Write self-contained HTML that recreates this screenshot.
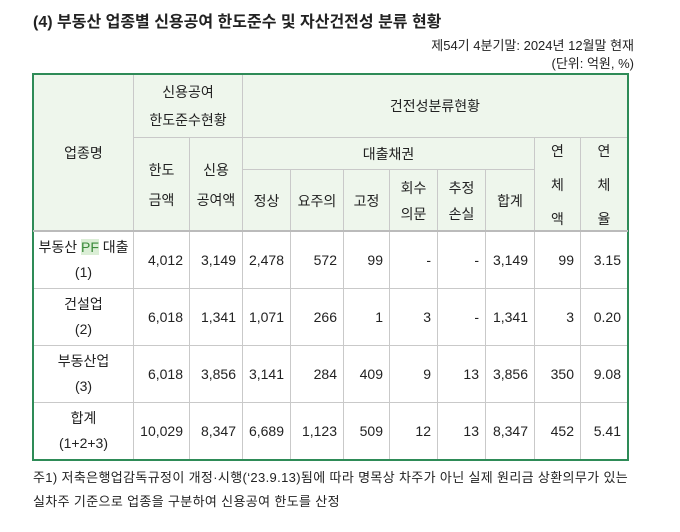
<!DOCTYPE html>
<html><head><meta charset="utf-8"><style>
*{margin:0;padding:0;box-sizing:border-box}
body{width:680px;height:532px;background:#fff;font-family:"Liberation Sans","Noto Sans CJK KR",sans-serif;color:#222;position:relative;overflow:hidden}
.t{position:absolute;white-space:nowrap}
.c{position:absolute;border:1px solid #c9c9c9;display:flex;align-items:center;justify-content:center;text-align:center;font-size:14px;line-height:30px}
.h{background:#eef6ec}
.n{justify-content:flex-end;padding-right:6px}
.lh{line-height:34px}
</style></head><body>
<div class="t" style="left:33px;top:8px;font-size:16px;font-weight:bold">(4) 부동산 업종별 신용공여 한도준수 및 자산건전성 분류 현황</div>
<div class="t" style="right:46px;top:35px;font-size:13px">제54기 4분기말: 2024년 12월말 현재</div>
<div class="t" style="right:46px;top:53px;font-size:13px">(단위: 억원, %)</div>

<div class="c h" style="left:33px;top:74px;width:101px;height:158px">업종명</div>
<div class="c h" style="left:133px;top:74px;width:110px;height:64px;line-height:28px"><div>신용공여<br>한도준수현황</div></div>
<div class="c h" style="left:242px;top:74px;width:386px;height:64px">건전성분류현황</div>
<div class="c h" style="left:133px;top:137px;width:57px;height:95px"><div>한도<br>금액</div></div>
<div class="c h" style="left:189px;top:137px;width:54px;height:95px"><div>신용<br>공여액</div></div>
<div class="c h" style="left:242px;top:137px;width:293px;height:33px">대출채권</div>
<div class="c h lh" style="left:534px;top:137px;width:47px;height:95px"><div>연<br>체<br>액</div></div>
<div class="c h lh" style="left:580px;top:137px;width:48px;height:95px"><div>연<br>체<br>율</div></div>
<div class="c h" style="left:242px;top:169px;width:49px;height:63px">정상</div>
<div class="c h" style="left:290px;top:169px;width:54px;height:63px">요주의</div>
<div class="c h" style="left:343px;top:169px;width:47px;height:63px">고정</div>
<div class="c h" style="left:389px;top:169px;width:49px;height:63px;line-height:26px"><div>회수<br>의문</div></div>
<div class="c h" style="left:437px;top:169px;width:49px;height:63px;line-height:26px"><div>추정<br>손실</div></div>
<div class="c h" style="left:485px;top:169px;width:50px;height:63px">합계</div>

<div id="rows"></div>
<script>
var R=[["부동산 <span style='background:#dbeed6;color:#3a8a3a'>PF</span> 대출<br>(1)","4,012","3,149","2,478","572","99","-","-","3,149","99","3.15"],
["건설업<br>(2)","6,018","1,341","1,071","266","1","3","-","1,341","3","0.20"],
["부동산업<br>(3)","6,018","3,856","3,141","284","409","9","13","3,856","350","9.08"],
["합계<br>(1+2+3)","10,029","8,347","6,689","1,123","509","12","13","8,347","452","5.41"]];
var X=[33,133,189,242,290,343,389,437,485,534,580,627];
var h="";
for(var r=0;r<4;r++){var y=231+r*57;
for(var i=0;i<11;i++){h+='<div class="c'+(i?' n':'')+'" style="left:'+X[i]+'px;top:'+y+'px;width:'+(X[i+1]-X[i]+1)+'px;height:58px;'+(i?'':'line-height:25px')+'"><div>'+R[r][i]+'</div></div>';}}
document.getElementById('rows').innerHTML=h;
</script>
<div style="position:absolute;left:32px;top:73px;width:597px;height:388px;border:2px solid #2e8b57"></div>
<div style="position:absolute;left:33px;top:230px;width:595px;height:2px;background:#bbb"></div>
<div class="t" style="left:33px;top:467px;font-size:13px;letter-spacing:0.35px">주1) 저축은행업감독규정이 개정·시행(‘23.9.13)됨에 따라 명목상 차주가 아닌 실제 원리금 상환의무가 있는</div>
<div class="t" style="left:33px;top:491px;font-size:13px;letter-spacing:0.35px">실차주 기준으로 업종을 구분하여 신용공여 한도를 산정</div>
</body></html>
